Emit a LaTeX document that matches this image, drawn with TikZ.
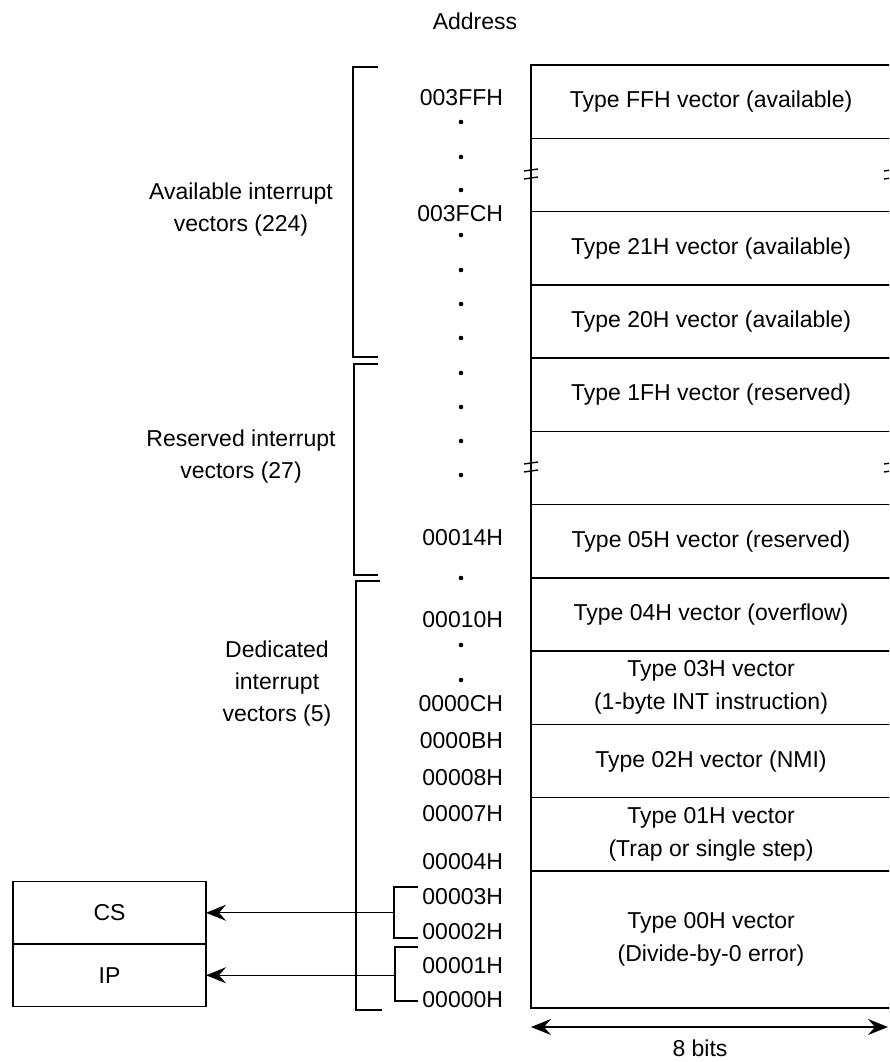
\documentclass[tikz,border=0pt]{standalone}
\usepackage{fontspec}
\setmainfont{Liberation Sans}
\usetikzlibrary{arrows.meta}
\begin{document}
\begin{tikzpicture}[x=1pt,y=-1pt,
  line width=1.4pt,
  every node/.style={font=\fontsize{23}{33}\selectfont, inner sep=0pt, outer sep=0pt},
  rowbox/.style={draw, minimum width=360pt, minimum height=73.27pt, anchor=north west, align=center},
  addr/.style={anchor=base east},
  lbl/.style={anchor=base},
  vdot/.style={circle, fill, minimum size=4.6pt, inner sep=0pt},
  regbox/.style={draw, minimum width=193pt, minimum height=62.5pt, anchor=north west},
  arr/.style={-{Stealth[length=20pt,width=16pt,inset=7pt]}},
  dblarr/.style={{Stealth[length=20pt,width=16pt,inset=7pt]}-{Stealth[length=20pt,width=16pt,inset=7pt]}},
]
\useasboundingbox (0,0) rectangle (889,1062);
\clip (0,0) rectangle (889,1062);

% title
\node[lbl] (title) at (475,30) {Address};

% memory table rows
\node[rowbox] (r1) at (531,65) {Type FFH vector (available)};
\node[rowbox] (r2) at (r1.south west) {};
\node[rowbox] (r3) at (r2.south west) {Type 21H vector (available)};
\node[rowbox] (r4) at (r3.south west) {Type 20H vector (available)};
\node[rowbox] (r5) at (r4.south west) {Type 1FH vector (reserved)};
\node[rowbox] (r6) at (r5.south west) {};
\node[rowbox] (r7) at (r6.south west) {Type 05H vector (reserved)};
\node[rowbox] (r8) at (r7.south west) {Type 04H vector (overflow)};
\node[rowbox] (r9) at (r8.south west) {Type 03H vector\\(1-byte INT instruction)};
\node[rowbox] (r10) at (r9.south west) {Type 02H vector (NMI)};
\node[rowbox] (r11) at (r10.south west) {Type 01H vector\\(Trap or single step)};
\node[rowbox, minimum height=137pt] (r12) at (r11.south west) {Type 00H vector\\(Divide-by-0 error)};

% break marks on the table sides
\foreach \bx in {531,891}{
  \foreach \by in {175,468}{
    \draw (\bx-7,\by-4) -- (\bx+7,\by-6);
    \draw (\bx-7,\by+4) -- (\bx+7,\by+2);
  }
}

% addresses
\node[addr] (a3FF) at (503,106) {003FFH};
\node[addr] (a3FC) at (503,221) {003FCH};
\node[addr] (a14) at (503,545) {00014H};
\node[addr] (a10) at (503,627) {00010H};
\node[addr] (a0C) at (503,711) {0000CH};
\node[addr] (a0B) at (503,748) {0000BH};
\node[addr] (a08) at (503,785) {00008H};
\node[addr] (a07) at (503,821) {00007H};
\node[addr] (a04) at (503,869) {00004H};
\node[addr] (a03) at (503,904) {00003H};
\node[addr] (a02) at (503,939) {00002H};
\node[addr] (a01) at (503,973) {00001H};
\node[addr] (a00) at (503,1007) {00000H};

% dots
\foreach \dy [count=\i] in {122,157,190,235,270,304,338,373,407,441,475,578,645,680}{
  \node[vdot] (d\i) at (461,\dy) {};
}

% group brackets
\draw (378,67) -- (353,67) -- (353,357) -- (378,357);
\draw (378,364) -- (354,364) -- (354,575) -- (378,575);
\draw (380,581) -- (356,581) -- (356,1010) -- (382,1010);

% group labels
\node[lbl] (gA) at (241,199) {Available interrupt};
\node[lbl] (gA2) at (241,231) {vectors (224)};
\node[lbl] (gR) at (241,446) {Reserved interrupt};
\node[lbl] (gR2) at (241,478) {vectors (27)};
\node[lbl] (gD) at (277,657) {Dedicated};
\node[lbl] (gD2) at (277,689) {interrupt};
\node[lbl] (gD3) at (277,721) {vectors (5)};

% CS / IP registers
\node[regbox] (cs) at (13,881.5) {CS};
\node[regbox] (ip) at (cs.south west) {IP};

% small brackets and connectors
\coordinate (csb) at (394,912.75);
\coordinate (ipb) at (395,975.25);
\draw (418,887) -- (394,887) -- (394,938) -- (418,938);
\draw (418,947) -- (395,947) -- (395,1001) -- (418,1001);
\draw[arr] (csb) -- (cs.east);
\draw[arr] (ipb) -- (ip.east);

% width arrow
\coordinate (wl) at (r12.south west |- 0,1027);
\coordinate (wr) at (888,1027);
\draw[dblarr] (wl) -- (wr);
\node[lbl] (bits) at (700,1056) {8 bits};
\end{tikzpicture}
\end{document}
